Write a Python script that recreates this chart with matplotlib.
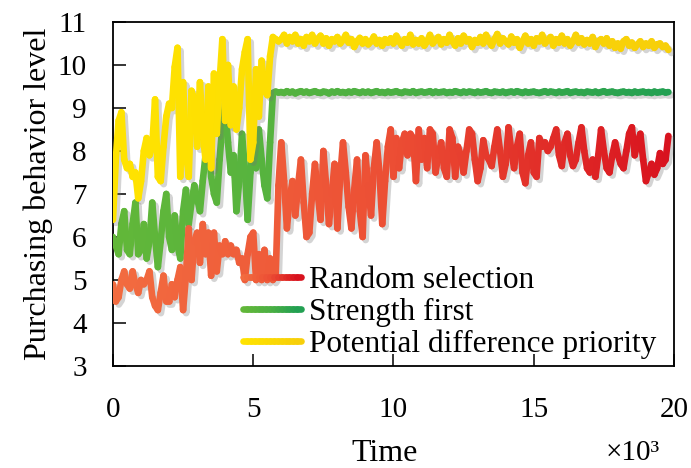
import numpy as np
import matplotlib
matplotlib.use("Agg")
import matplotlib.pyplot as plt
import matplotlib.patheffects as pe
from matplotlib.collections import LineCollection
from matplotlib.colors import LinearSegmentedColormap
from matplotlib.legend_handler import HandlerBase
from matplotlib.lines import Line2D

plt.rcParams["font.family"] = ["Liberation Serif", "DejaVu Serif"]

# time axis in thousands of steps
time = np.round(np.arange(0, 19.85, 0.1), 1)

random_selection = [
    4.9, 4.5, 4.6, 5.0, 5.2, 4.9, 4.8, 5.2, 4.9, 4.7,
    5.0, 4.9, 5.0, 5.2, 4.6, 4.4, 4.3, 4.7, 5.1, 4.5,
    4.5, 4.9, 4.6, 5.0, 5.3, 4.3, 5.1, 6.2, 5.0, 5.9,
    6.1, 5.4, 6.3, 5.6, 6.1, 5.1, 6.1, 5.2, 5.8, 5.6,
    5.9, 5.6, 5.8, 5.6, 5.7, 5.4, 5.5, 5.0, 5.6, 6.0,
    6.1, 5.0, 5.6, 5.0, 5.7, 5.0, 5.5, 5.0, 5.1, 7.2,
    8.2, 7.3, 6.2, 6.9, 7.3, 6.5, 7.2, 7.8, 6.8, 6.0,
    6.1, 7.0, 7.7, 7.0, 6.4, 8.0, 7.2, 6.3, 7.0, 7.7,
    6.2, 7.4, 8.2, 7.5, 6.7, 6.2, 7.1, 7.8, 6.6, 6.0,
    7.9, 7.2, 6.5, 7.6, 8.2, 7.5, 6.3, 7.3, 8.1, 8.5,
    7.4, 8.3, 7.6, 8.2, 8.4, 7.9, 8.4, 8.3, 7.3, 8.5,
    7.8, 8.3, 7.6, 8.5, 8.4, 7.5, 7.9, 8.2, 7.6, 7.4,
    8.5, 8.3, 7.4, 8.1, 7.9, 7.5, 8.0, 8.5, 8.4, 7.8,
    7.3, 7.6, 8.25, 7.9, 7.8, 7.65, 8.1, 8.5, 8.0, 7.4,
    7.7, 8.55, 8.0, 7.6, 8.1, 8.4, 7.5, 7.25, 7.9, 8.2,
    7.5, 7.4, 8.3, 8.1, 8.2, 8.0, 8.1, 8.3, 8.5, 7.9,
    7.65, 8.2, 8.4, 7.9, 7.65, 7.8, 8.2, 8.55, 8.0, 7.6,
    7.5, 7.8, 7.4, 7.9, 8.5, 8.0, 7.6, 7.5, 7.9, 8.2,
    7.9, 7.7, 7.6, 8.0, 8.4, 8.55, 7.9, 8.2, 8.4, 7.8,
    7.3, 7.5, 7.7, 7.45, 7.6, 7.95, 7.7, 7.8, 8.35,
]

strength_first = [
    6.0, 5.8, 5.6, 6.3, 6.6, 5.7, 5.6, 6.3, 6.8, 5.6,
    5.7, 6.3, 5.5, 5.9, 6.8, 6.0, 5.3, 5.9, 6.6, 7.0,
    6.0, 5.7, 6.5, 5.8, 5.5, 6.6, 7.1, 6.3, 6.8, 7.2,
    6.9, 6.6, 7.3, 7.9, 8.2, 7.4, 7.0, 6.8, 7.8, 8.6,
    9.1, 8.2, 7.5, 7.9, 6.6, 7.3, 8.4, 7.6, 6.4, 7.5,
    8.3, 7.6, 8.5, 7.8, 7.2, 6.9, 8.2, 9.35, 9.38, 9.36,
    9.37, 9.35, 9.39, 9.36, 9.38, 9.34, 9.37, 9.39, 9.36, 9.38,
    9.35, 9.37, 9.39, 9.36, 9.35, 9.38, 9.37, 9.34, 9.38, 9.36,
    9.39, 9.36, 9.37, 9.35, 9.38, 9.36, 9.39, 9.37, 9.35, 9.38,
    9.36, 9.38, 9.35, 9.37, 9.39, 9.36, 9.37, 9.35, 9.38, 9.36,
    9.37, 9.39, 9.36, 9.35, 9.38, 9.37, 9.36, 9.39, 9.35, 9.37,
    9.38, 9.36, 9.37, 9.39, 9.35, 9.38, 9.36, 9.37, 9.38, 9.35,
    9.37, 9.36, 9.39, 9.37, 9.35, 9.38, 9.36, 9.38, 9.37, 9.35,
    9.38, 9.36, 9.37, 9.39, 9.36, 9.35, 9.38, 9.37, 9.36, 9.38,
    9.35, 9.37, 9.38, 9.36, 9.39, 9.37, 9.35, 9.38, 9.36, 9.37,
    9.38, 9.36, 9.35, 9.37, 9.39, 9.36, 9.38, 9.37, 9.35, 9.38,
    9.36, 9.37, 9.39, 9.35, 9.37, 9.38, 9.36, 9.37, 9.35, 9.38,
    9.37, 9.36, 9.38, 9.35, 9.37, 9.39, 9.36, 9.37, 9.38, 9.36,
    9.35, 9.37, 9.38, 9.36, 9.37, 9.35, 9.38, 9.36, 9.37, 9.38,
    9.36, 9.37, 9.35, 9.38, 9.36, 9.37, 9.38, 9.36, 9.37,
]

potential_priority = [
    6.4, 7.8, 8.7, 8.9, 7.8, 7.6, 7.7, 7.4, 7.5, 6.9,
    7.3, 8.0, 8.3, 7.9, 8.1, 9.2, 7.4, 7.3, 8.1, 8.8,
    9.1, 9.0, 9.95, 10.4, 7.4, 9.6, 8.0, 7.4, 9.4, 9.2,
    8.1, 9.6, 8.4, 7.8, 9.5, 7.6, 9.8, 8.4, 9.6, 10.6,
    8.7, 10.0, 8.6, 9.5, 8.5, 9.0, 9.9, 10.3, 10.6, 7.8,
    8.2, 9.9, 8.8, 10.1, 9.4, 9.3, 10.2, 10.65, 10.6, 10.55,
    10.6, 10.7, 10.5, 10.65, 10.55, 10.7, 10.5, 10.6, 10.45, 10.65,
    10.55, 10.7, 10.5, 10.6, 10.68, 10.5, 10.62, 10.45, 10.6, 10.55,
    10.65, 10.5, 10.58, 10.7, 10.52, 10.6, 10.42, 10.55, 10.63, 10.5,
    10.6, 10.48, 10.55, 10.66, 10.5, 10.58, 10.45, 10.6, 10.52, 10.62,
    10.5, 10.68, 10.55, 10.45, 10.6, 10.52, 10.7, 10.48, 10.58, 10.5,
    10.62, 10.45, 10.55, 10.7, 10.5, 10.58, 10.65, 10.48, 10.6, 10.52,
    10.7, 10.55, 10.45, 10.62, 10.5, 10.68, 10.55, 10.6, 10.42, 10.58,
    10.52, 10.65, 10.5, 10.7, 10.55, 10.45, 10.6, 10.72, 10.5, 10.62,
    10.55, 10.48, 10.66, 10.52, 10.6, 10.4, 10.55, 10.68, 10.5, 10.6,
    10.45, 10.62, 10.55, 10.7, 10.5, 10.58, 10.65, 10.45, 10.6, 10.52,
    10.68, 10.5, 10.6, 10.45, 10.55, 10.7, 10.52, 10.62, 10.48, 10.58,
    10.5, 10.65, 10.42, 10.55, 10.6, 10.5, 10.62, 10.45, 10.55, 10.4,
    10.5, 10.38, 10.55, 10.6, 10.45, 10.52, 10.4, 10.48, 10.55, 10.42,
    10.5, 10.45, 10.55, 10.4, 10.48, 10.5, 10.42, 10.45, 10.35,
]

labels = ["Random selection", "Strength first", "Potential difference priority"]

red_cmap = LinearSegmentedColormap.from_list("red", ["#F26C40", "#EC4E34", "#D8121E"])
green_cmap = LinearSegmentedColormap.from_list("green", ["#62B739", "#4CB043", "#22A052"])
yellow_cmap = LinearSegmentedColormap.from_list("yellow", ["#FFE300", "#FBDA04", "#F7CF0A"])

LW = 4.8


class GradientHandler(HandlerBase):
    def __init__(self, cmap):
        super().__init__()
        self.cmap = cmap

    def create_artists(self, legend, orig_handle, xdescent, ydescent,
                       width, height, fontsize, trans):
        xs = np.linspace(-xdescent, width - xdescent, 16)
        y = (height - ydescent) / 2
        segs = [[(xs[i], y), (xs[i + 1], y)] for i in range(len(xs) - 1)]
        lc = LineCollection(segs, cmap=self.cmap, linewidths=LW,
                            capstyle="round", transform=trans)
        lc.set_array(np.linspace(0, 1, len(segs)))
        return [lc]


def draw_series(ax, x, y, cmap, zorder):
    x = np.asarray(x, dtype=float)
    y = np.asarray(y, dtype=float)
    # soft drop shadow under the line
    ax.plot(x, y, color="0.5", lw=LW, zorder=zorder - 0.5,
            solid_capstyle="round", solid_joinstyle="round",
            path_effects=[pe.SimpleLineShadow(offset=(2.2, -2.2),
                                              shadow_color="0.45", alpha=0.3)])
    pts = np.column_stack([x, y])
    segs = np.stack([pts[:-1], pts[1:]], axis=1)
    lc = LineCollection(segs, cmap=cmap, linewidths=LW, capstyle="round",
                        joinstyle="round", zorder=zorder)
    lc.set_array((x[:-1] + x[1:]) / 2 / 20.0)
    lc.set_clim(0, 1)
    ax.add_collection(lc)


fig = plt.figure(figsize=(6.91, 4.68), dpi=100)
ax = fig.add_axes([0.1635, 0.218, 0.8119, 0.735])

draw_series(ax, time, strength_first, green_cmap, 3)
draw_series(ax, time, potential_priority, yellow_cmap, 4)
draw_series(ax, time, random_selection, red_cmap, 5)

ax.set_xlim(0, 20)
ax.set_ylim(3, 11)
ax.set_xticks([0, 5, 10, 15, 20])
ax.set_yticks(range(3, 12))
ax.tick_params(direction="in", length=9, width=1.1, labelsize=21)
ax.tick_params(axis="x", pad=22)
ax.tick_params(axis="y", pad=19)
for spine in ax.spines.values():
    spine.set_linewidth(1.3)

ax.set_xlabel("Time", fontsize=23)
ax.set_ylabel("Purchasing behavior level", fontsize=23)
ax.xaxis.set_label_coords(0.485, -0.213)
ax.yaxis.set_label_coords(-0.107, 0.5)
fig.text(0.916, 0.032, "×10³", fontsize=21, ha="center", va="center")

proxies = [Line2D([], []) for _ in labels]
handler_map = {
    proxies[0]: GradientHandler(red_cmap),
    proxies[1]: GradientHandler(green_cmap),
    proxies[2]: GradientHandler(yellow_cmap),
}
ax.legend(proxies, labels, handler_map=handler_map, frameon=False,
          loc="upper left", bbox_to_anchor=(0.232, 0.292), fontsize=22.5,
          handlelength=1.85, handletextpad=0.25, labelspacing=0.1,
          borderpad=0, borderaxespad=0)

fig.savefig("out.png", dpi=100)
